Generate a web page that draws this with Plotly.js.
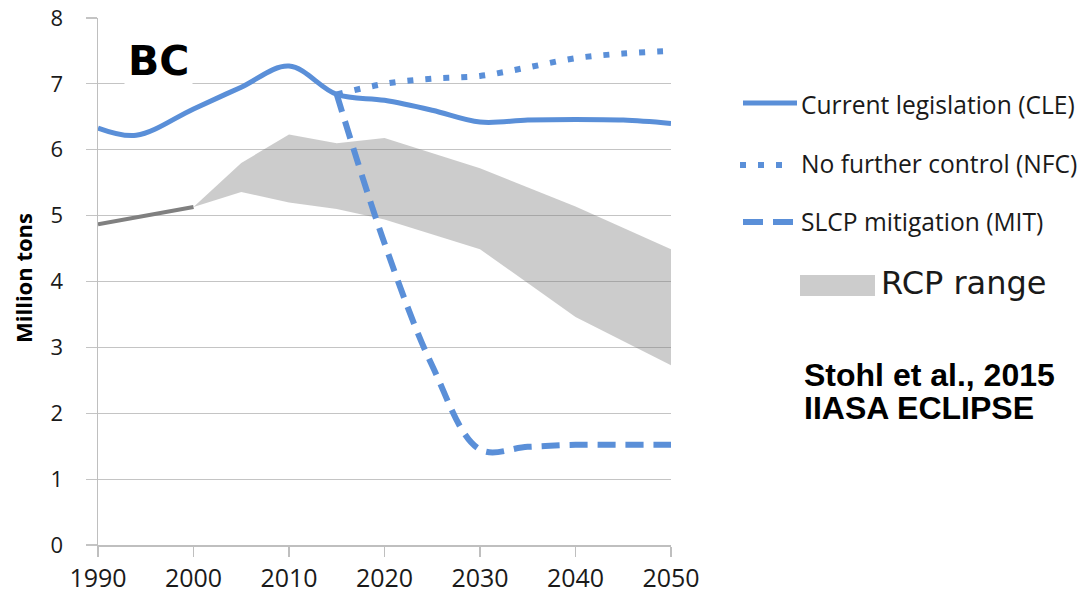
<!DOCTYPE html>
<html>
<head>
<meta charset="utf-8">
<script src="https://cdn.plot.ly/plotly-3.0.1.min.js"></script>
<style>html,body{margin:0;padding:0;background:#fff;}#chart{width:1078px;height:595px;}</style>
</head>
<body>
<div id="chart"></div>
<script>
// ---- data ----
const histYears = [1990, 2000];
const histValues = [4.87, 5.13];

const cleYears = [1990, 1994, 2000, 2005, 2010, 2015, 2020, 2025, 2030, 2035, 2040, 2045, 2050];
const cleValues = [6.33, 6.22, 6.62, 6.95, 7.27, 6.84, 6.75, 6.60, 6.42, 6.45, 6.46, 6.45, 6.40];

const nfcYears = [2015, 2020, 2025, 2030, 2035, 2040, 2045, 2050];
const nfcValues = [6.84, 7.00, 7.08, 7.12, 7.25, 7.39, 7.46, 7.50];

const mitYears = [2015, 2020, 2025, 2030, 2035, 2040, 2045, 2050];
const mitValues = [6.84, 4.58, 2.72, 1.45, 1.49, 1.52, 1.52, 1.52];

const rcpYears = [2000, 2005, 2010, 2015, 2020, 2030, 2040, 2050];
const rcpLow  = [5.13, 5.36, 5.20, 5.10, 4.94, 4.49, 3.46, 2.73];
const rcpHigh = [5.13, 5.80, 6.23, 6.10, 6.18, 5.72, 5.14, 4.49];

const xTicks = [1990, 2000, 2010, 2020, 2030, 2040, 2050];
const yTicks = [0, 1, 2, 3, 4, 5, 6, 7, 8];

const legendNames = ["Current legislation (CLE)", "No further control (NFC)", "SLCP mitigation (MIT)", "RCP range"];
const panelLabel = "BC";
const yTitle = "Million tons";
const sourceLines = ["Stohl et al., 2015", "IIASA ECLIPSE"];

// ---- styling ----
const BLUE = "#5a8fd8";
const X0 = 98, X1 = 671, Y0 = 18, Y1 = 545;
const px = p => (p - X0) / (X1 - X0);
const py = p => (Y1 - p) / (Y1 - Y0);

const traces = [
  {x: rcpYears, y: rcpLow, mode: "lines", line: {width: 0, color: "rgba(0,0,0,0)"}, showlegend: false, hoverinfo: "skip"},
  {x: rcpYears, y: rcpHigh, mode: "lines", fill: "tonexty", fillcolor: "rgba(120,120,120,0.38)",
   line: {width: 0, color: "rgba(0,0,0,0)"}, name: legendNames[3], showlegend: false},
  {x: histYears, y: histValues, mode: "lines", line: {color: "#808080", width: 4}, showlegend: false},
  {x: nfcYears, y: nfcValues, mode: "lines", line: {color: BLUE, width: 6, shape: "spline", dash: "6px,12px"}, name: legendNames[1], showlegend: false},
  {x: mitYears, y: mitValues, mode: "lines", line: {color: BLUE, width: 6, shape: "spline", dash: "18px,10px"}, name: legendNames[2], showlegend: false},
  {x: cleYears, y: cleValues, mode: "lines", line: {color: BLUE, width: 5, shape: "spline"}, name: legendNames[0], showlegend: false}
];

const shapes = [
  {type: "line", xref: "paper", yref: "paper", x0: px(743), x1: px(797), y0: py(103), y1: py(103), line: {color: BLUE, width: 5}},
  {type: "line", xref: "paper", yref: "paper", x0: px(740), x1: px(790), y0: py(165), y1: py(165), line: {color: BLUE, width: 6, dash: "6px,12px"}},
  {type: "line", xref: "paper", yref: "paper", x0: px(743), x1: px(797), y0: py(222), y1: py(222), line: {color: BLUE, width: 6, dash: "20px,10px"}},
  {type: "rect", xref: "paper", yref: "paper", x0: px(800), x1: px(875), y0: py(275), y1: py(296), line: {width: 0}, fillcolor: "#cccccc"}
];

const legFont = {family: "Open Sans, sans-serif", size: 24.6, color: "#1a1a1a"};
const annotations = [
  {text: "<b>" + panelLabel + "</b>", xref: "paper", yref: "paper", x: px(158), y: py(61), xanchor: "center", yanchor: "middle",
   showarrow: false, bgcolor: "#ffffff", borderpad: 3, font: {family: "DejaVu Sans, sans-serif", size: 41, color: "#000"}},
  {text: "<b>" + yTitle + "</b>", xref: "paper", yref: "paper", x: px(23), y: py(278), xanchor: "center", yanchor: "middle",
   textangle: -90, showarrow: false, font: {family: "Open Sans, sans-serif", size: 22, color: "#000"}},
  {text: legendNames[0], xref: "paper", yref: "paper", x: px(799), y: py(104), xanchor: "left", yanchor: "middle", showarrow: false, font: legFont},
  {text: legendNames[1], xref: "paper", yref: "paper", x: px(799), y: py(163), xanchor: "left", yanchor: "middle", showarrow: false, font: legFont},
  {text: legendNames[2], xref: "paper", yref: "paper", x: px(799), y: py(221), xanchor: "left", yanchor: "middle", showarrow: false, font: legFont},
  {text: legendNames[3], xref: "paper", yref: "paper", x: px(879), y: py(283), xanchor: "left", yanchor: "middle", showarrow: false,
   font: {family: "DejaVu Sans, sans-serif", size: 32, color: "#1a1a1a"}},
  {text: "<b>" + sourceLines[0] + "</b>", xref: "paper", yref: "paper", x: px(802), y: py(375), xanchor: "left", yanchor: "middle", showarrow: false,
   font: {family: "Liberation Sans, Arial, sans-serif", size: 32, color: "#000"}},
  {text: "<b>" + sourceLines[1] + "</b>", xref: "paper", yref: "paper", x: px(802), y: py(408), xanchor: "left", yanchor: "middle", showarrow: false,
   font: {family: "Liberation Sans, Arial, sans-serif", size: 32, color: "#000"}}
];

const layout = {
  width: 1078, height: 595,
  margin: {l: X0, r: 1078 - X1, t: Y0, b: 595 - Y1, pad: 0},
  paper_bgcolor: "#ffffff", plot_bgcolor: "#ffffff",
  font: {family: "Open Sans, sans-serif", color: "#1a1a1a"},
  showlegend: false,
  xaxis: {
    range: [1990, 2050], tickvals: xTicks, ticktext: xTicks.map(String),
    showgrid: false, zeroline: false, showline: true, linecolor: "#bfbfbf", linewidth: 1.5,
    ticks: "outside", ticklen: 10, tickcolor: "#bfbfbf", tickwidth: 1.5,
    ticklabelstandoff: 0, tickfont: {size: 25, color: "#1a1a1a"}
  },
  yaxis: {
    range: [0, 8], tickvals: yTicks, ticktext: yTicks.map(String),
    showgrid: true, gridcolor: "#c4c4c4", gridwidth: 1.2, zeroline: false,
    showline: true, linecolor: "#bfbfbf", linewidth: 1.5,
    ticks: "outside", ticklen: 11, tickcolor: "#c4c4c4", tickwidth: 1.2,
    ticklabelstandoff: 18, tickfont: {size: 22, color: "#1a1a1a"}
  },
  shapes: shapes,
  annotations: annotations
};

Plotly.newPlot("chart", traces, layout, {staticPlot: true, displayModeBar: false});
</script>
</body>
</html>
